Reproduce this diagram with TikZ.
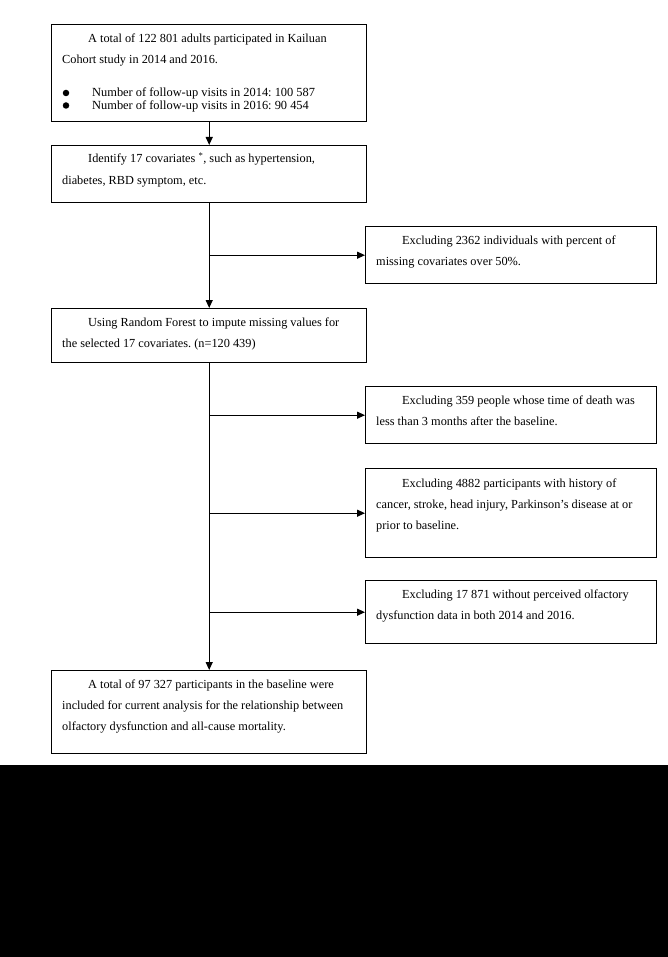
\documentclass[tikz,border=0pt]{standalone}
\usepackage{fontspec}
\setmainfont{Liberation Serif}
\frenchspacing
\usetikzlibrary{arrows.meta,calc}
\begin{document}
\begin{tikzpicture}[x=1pt,y=-1pt,
  box/.style={draw,line width=1.4pt,rectangle,inner sep=0pt,anchor=north west},
  txt/.style={anchor=base west,inner sep=0pt,font=\fontsize{12.3}{21.3}\selectfont\frenchspacing},
  arr/.style={line width=1.2pt,-{Triangle[length=8pt,width=7pt]}},
  bul/.style={circle,fill,inner sep=0pt,minimum size=6.5pt}]
\useasboundingbox (0,0) rectangle (668,957);
\fill[black] (0,765) rectangle (668,957);
% left column boxes
\node[box,minimum width=315pt,minimum height=97pt] (b1) at (51,24) {};
\node[box,minimum width=315pt,minimum height=57pt] (b2) at (51,145) {};
\node[box,minimum width=315pt,minimum height=54pt] (b4) at (51,308) {};
\node[box,minimum width=315pt,minimum height=83pt] (b8) at (51,670) {};
% right column boxes
\node[box,minimum width=291pt,minimum height=57pt] (b3) at (365,226) {};
\node[box,minimum width=291pt,minimum height=57pt] (b5) at (365,386) {};
\node[box,minimum width=291pt,minimum height=89pt] (b6) at (365,468) {};
\node[box,minimum width=291pt,minimum height=63pt] (b7) at (365,580) {};
% texts
\node[txt] (t1) at (62,42.5) {\parbox[t]{320pt}{\raggedright\hspace*{26pt}A total of 122 801 adults participated in Kailuan\\Cohort study in 2014 and 2016.}};
\node[bul] (u1) at (66,93) {};
\node[bul] (u2) at (66,105.5) {};
\node[txt] (t1b) at (92,97) {\parbox[t]{300pt}{\fontsize{12.4}{12.5}\selectfont\raggedright Number of follow-up visits in 2014: 100 587\\Number of follow-up visits in 2016: 90 454}};
\node[txt] (t2) at (62,163) {\parbox[t]{320pt}{\raggedright\hspace*{26pt}Identify 17 covariates \textsuperscript{*}, such as hypertension,\\diabetes, RBD symptom, etc.}};
\node[txt] (t3) at (376,244.5) {\parbox[t]{300pt}{\raggedright\hspace*{26pt}Excluding 2362 individuals with percent of\\missing covariates over 50\%.}};
\node[txt] (t4) at (62,326.5) {\parbox[t]{320pt}{\raggedright\hspace*{26pt}Using Random Forest to impute missing values for\\the selected 17 covariates. (n=120 439)}};
\node[txt] (t5) at (376,404.5) {\parbox[t]{300pt}{\raggedright\hspace*{26pt}Excluding 359 people whose time of death was\\less than 3 months after the baseline.}};
\node[txt] (t6) at (376,487) {\parbox[t]{300pt}{\raggedright\hspace*{26pt}Excluding 4882 participants with history of\\cancer, stroke, head injury, Parkinson\symbol{"0027}s disease at or\\prior to baseline.}};
\node[txt] (t7) at (376,598.5) {\parbox[t]{300pt}{\raggedright\hspace*{26pt}Excluding 17 871 without perceived olfactory\\dysfunction data in both 2014 and 2016.}};
\node[txt] (t8) at (62,688) {\parbox[t]{320pt}{\raggedright\hspace*{26pt}A total of 97 327 participants in the baseline were\\included for current analysis for the relationship between\\olfactory dysfunction and all-cause mortality.}};
% connectors
\draw[arr] (b1) -- (b2);
\draw[arr] (b2) -- (b4);
\draw[arr] (b4) -- (b8);
\draw[arr] (b3.west -| b2.south) -- (b3.west);
\draw[arr] (b5.west -| b4.south) -- (b5.west);
\draw[arr] (b6.west -| b4.south) -- (b6.west);
\draw[arr] (b7.west -| b4.south) -- (b7.west);
\end{tikzpicture}
\end{document}
